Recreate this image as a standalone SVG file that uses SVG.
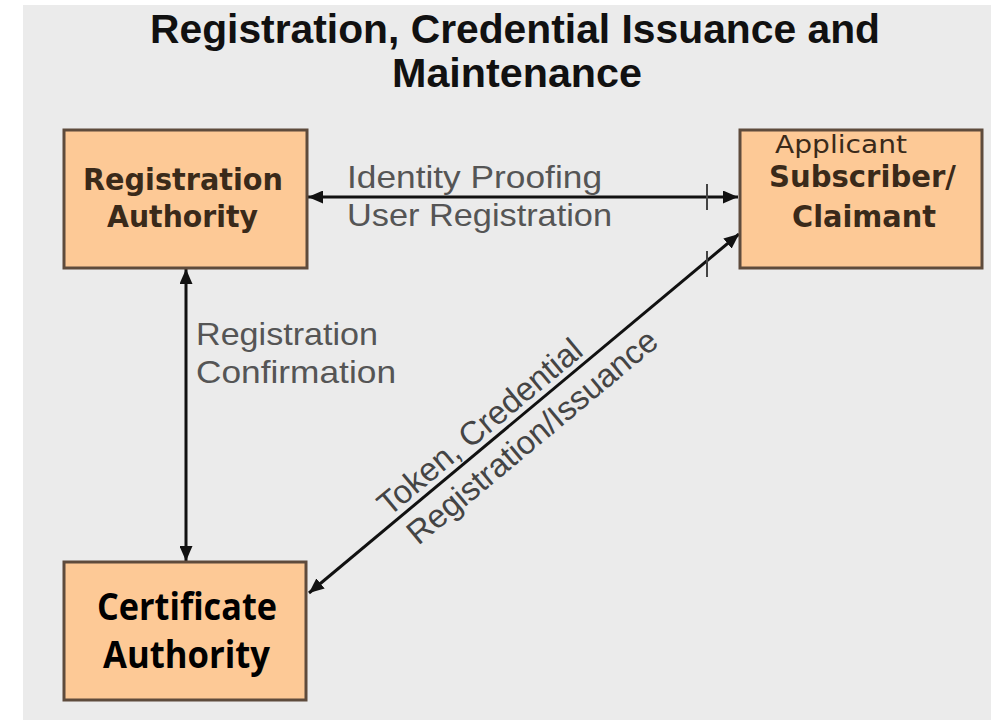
<svg xmlns="http://www.w3.org/2000/svg" width="991" height="720" viewBox="0 0 991 720">
  <style>
    .box { fill: #fdc996; stroke: #5e4b3c; stroke-width: 3; }
    .title { font-family: "Liberation Sans", Arial, sans-serif; font-weight: bold; font-size: 40px; fill: #111; text-anchor: middle; }
    .nodeText { font-family: "DejaVu Sans", sans-serif; font-weight: bold; font-size: 30px; fill: #3a2a1a; }
    .nodeReg { font-family: "DejaVu Sans", sans-serif; font-size: 25px; fill: #3a2a1a; }
    .caText { font-family: "Open Sans", sans-serif; font-weight: bold; font-size: 37px; fill: #000; }
    .edgeText { font-family: "Liberation Sans", Arial, sans-serif; font-size: 32px; fill: #555; }
    .diagText { font-family: "Liberation Sans", Arial, sans-serif; font-size: 33px; fill: #444; }
    .conn { stroke: #111; stroke-width: 3; fill: none; }
    .tick { stroke: #444; stroke-width: 2; }
  </style>
  <defs>
    <marker id="arrow" viewBox="0 0 15 13" refX="15" refY="6.5" markerWidth="15" markerHeight="13" markerUnits="userSpaceOnUse" orient="auto-start-reverse">
      <path d="M0,0 L15,6.5 L0,13 z" fill="#111"/>
    </marker>
  </defs>

  <rect x="0" y="0" width="991" height="720" fill="#ffffff"/>
  <rect x="23" y="5" width="968" height="715" fill="#ebebeb"/>

  <g id="title">
    <text class="title" x="515" y="43" textLength="730" lengthAdjust="spacingAndGlyphs">Registration, Credential Issuance and</text>
    <text class="title" x="517" y="87" textLength="250" lengthAdjust="spacingAndGlyphs">Maintenance</text>
  </g>

  <g id="connectors">
    <line class="conn" x1="308" y1="197" x2="738" y2="197" marker-start="url(#arrow)" marker-end="url(#arrow)"/>
    <line class="tick" x1="707" y1="184" x2="707" y2="210"/>
    <line class="conn" x1="186" y1="269" x2="186" y2="561" marker-start="url(#arrow)" marker-end="url(#arrow)"/>
    <line class="conn" x1="309" y1="593" x2="739" y2="234" marker-start="url(#arrow)" marker-end="url(#arrow)"/>
    <line class="tick" x1="707" y1="251" x2="707" y2="277"/>

    <text class="edgeText" x="347" y="188" textLength="255" lengthAdjust="spacingAndGlyphs">Identity Proofing</text>
    <text class="edgeText" x="347" y="226" textLength="265" lengthAdjust="spacingAndGlyphs">User Registration</text>
    <text class="edgeText" x="196" y="345" textLength="182" lengthAdjust="spacingAndGlyphs">Registration</text>
    <text class="edgeText" x="196" y="383" textLength="200" lengthAdjust="spacingAndGlyphs">Confirmation</text>
    <g transform="translate(310,592) rotate(-39.8)">
      <text class="diagText" x="236" y="-7" text-anchor="middle" textLength="255" lengthAdjust="spacingAndGlyphs">Token, Credential</text>
      <text class="diagText" x="270" y="34" text-anchor="middle" textLength="315" lengthAdjust="spacingAndGlyphs">Registration/Issuance</text>
    </g>
  </g>

  <g id="registration-authority">
    <rect class="box" x="64" y="130" width="243" height="138"/>
    <text class="nodeText" x="83" y="190" textLength="200" lengthAdjust="spacingAndGlyphs">Registration</text>
    <text class="nodeText" x="107" y="227" textLength="151" lengthAdjust="spacingAndGlyphs">Authority</text>
  </g>

  <g id="subscriber-claimant">
    <rect class="box" x="740" y="130" width="242" height="138"/>
    <text class="nodeReg" x="775" y="153" textLength="132" lengthAdjust="spacingAndGlyphs">Applicant</text>
    <text class="nodeText" x="769" y="187" textLength="187" lengthAdjust="spacingAndGlyphs">Subscriber/</text>
    <text class="nodeText" x="792" y="227" textLength="144" lengthAdjust="spacingAndGlyphs">Claimant</text>
  </g>

  <g id="certificate-authority">
    <rect class="box" x="64" y="562" width="242" height="138"/>
    <text class="caText" x="97" y="620" textLength="180" lengthAdjust="spacingAndGlyphs">Certificate</text>
    <text class="caText" x="103" y="668" textLength="167" lengthAdjust="spacingAndGlyphs">Authority</text>
  </g>
</svg>
